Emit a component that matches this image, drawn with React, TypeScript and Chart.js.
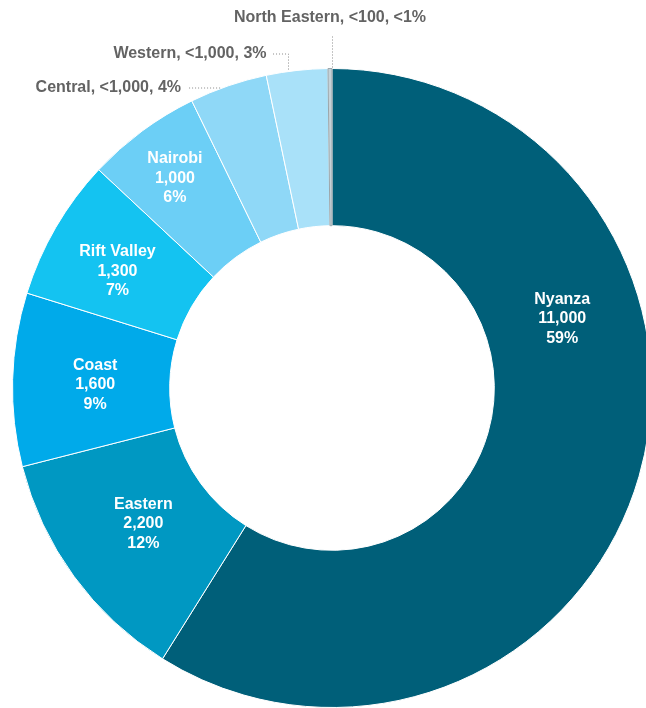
import React, { useEffect, useRef } from "react";
import { Chart, registerables } from "chart.js";

Chart.register(...registerables);

const regions = ["Nyanza", "Eastern", "Coast", "Rift Valley", "Nairobi", "Central", "Western", "North Eastern"];
const shares = [58.9, 12.14, 8.76, 7.17, 5.8, 3.93, 3.1, 0.2];
const countLabels = ["11,000", "2,200", "1,600", "1,300", "1,000", "<1,000", "<1,000", "<100"];
const pctLabels = ["59%", "12%", "9%", "7%", "6%", "4%", "3%", "<1%"];
const colors = ["#005f79", "#0098c2", "#00aaea", "#14c3f1", "#6ccff6", "#8fd8f7", "#a9e1f9", "#c5d2d8"];

const FONT = "bold 16px 'Liberation Sans', Arial, sans-serif";
const NUDGE: [number, number][] = [[1, 5], [6, -6], [4, 3], [-2, 7], [-2, 0]];

const labelPlugin = {
  id: "kenyaLabels",
  afterDatasetsDraw(chart: any) {
    const ctx = chart.ctx;
    const meta = chart.getDatasetMeta(0);
    ctx.save();
    ctx.font = FONT;
    meta.data.forEach((arc: any, i: number) => {
      const { x, y, startAngle, endAngle, innerRadius, outerRadius } = arc.getProps(
        ["x", "y", "startAngle", "endAngle", "innerRadius", "outerRadius"],
        true
      );
      const R = outerRadius;
      if (i < 5) {
        let ang = (startAngle + endAngle) / 2;
        let r = (innerRadius + outerRadius) / 2;
        if (i === 0) ang = startAngle + (endAngle - startAngle) * 0.34;
        if (i === 4) r = r + 20;
        if (i === 3) r = r + 5;
        const cx = x + Math.cos(ang) * r + NUDGE[i][0];
        const cy = y + Math.sin(ang) * r + NUDGE[i][1];
        ctx.fillStyle = "#ffffff";
        ctx.textAlign = "center";
        ctx.textBaseline = "middle";
        ctx.fillText(regions[i], cx, cy - 19.5);
        ctx.fillText(countLabels[i], cx, cy);
        ctx.fillText(pctLabels[i], cx, cy + 19.5);
      } else {
        const text = `${regions[i]}, ${countLabels[i]}, ${pctLabels[i]}`;
        ctx.strokeStyle = "#8a8a8a";
        ctx.lineWidth = 1;
        ctx.setLineDash([1, 2]);
        ctx.fillStyle = "#636363";
        ctx.textBaseline = "middle";
        ctx.beginPath();
        if (i === 7) {
          const lx = x + 0.5;
          ctx.moveTo(lx, y - R - 1);
          ctx.lineTo(lx, y - R - 34);
          ctx.stroke();
          ctx.textAlign = "center";
          ctx.fillText(text, x - 2, y - R - 51);
        } else if (i === 6) {
          const lx = x - 43.5;
          const ly = y - R - 14.5;
          const edge = y - Math.sqrt(R * R - 44 * 44);
          ctx.moveTo(lx, edge - 2);
          ctx.lineTo(lx, ly);
          ctx.lineTo(lx - 16, ly);
          ctx.stroke();
          ctx.textAlign = "right";
          ctx.fillText(text, lx - 22, ly);
        } else {
          const ly = y - R + 19.5;
          const edge = x - Math.sqrt(R * R - (ly - y) * (ly - y));
          ctx.moveTo(edge - 2, ly);
          ctx.lineTo(x - 143, ly);
          ctx.stroke();
          ctx.textAlign = "right";
          ctx.fillText(text, x - 151, ly);
        }
        ctx.setLineDash([]);
      }
    });
    ctx.restore();
  },
};

export default function App() {
  const ref = useRef<HTMLCanvasElement>(null);
  useEffect(() => {
    const chart = new Chart(ref.current!, {
      type: "doughnut",
      data: {
        labels: regions,
        datasets: [
          {
            data: shares,
            backgroundColor: colors,
            borderColor: ["#ffffff", "#ffffff", "#ffffff", "#ffffff", "#ffffff", "#ffffff", "#ffffff", "#9aa5aa"],
            borderWidth: 1,
            hoverOffset: 0,
          },
        ],
      },
      options: {
        responsive: false,
        animation: false,
        cutout: "50.8%",
        layout: { padding: { left: 12, right: 14, top: 68, bottom: 68 } },
        plugins: { legend: { display: false }, tooltip: { enabled: false } },
      },
      plugins: [labelPlugin],
    });
    return () => chart.destroy();
  }, []);
  return (
    <div style={{ position: "fixed", left: 0, top: 0, width: 646, height: 708, overflow: "hidden", background: "#fff" }}>
      <canvas ref={ref} width={666} height={776} style={{ width: 666, height: 776 }} />
    </div>
  );
}
